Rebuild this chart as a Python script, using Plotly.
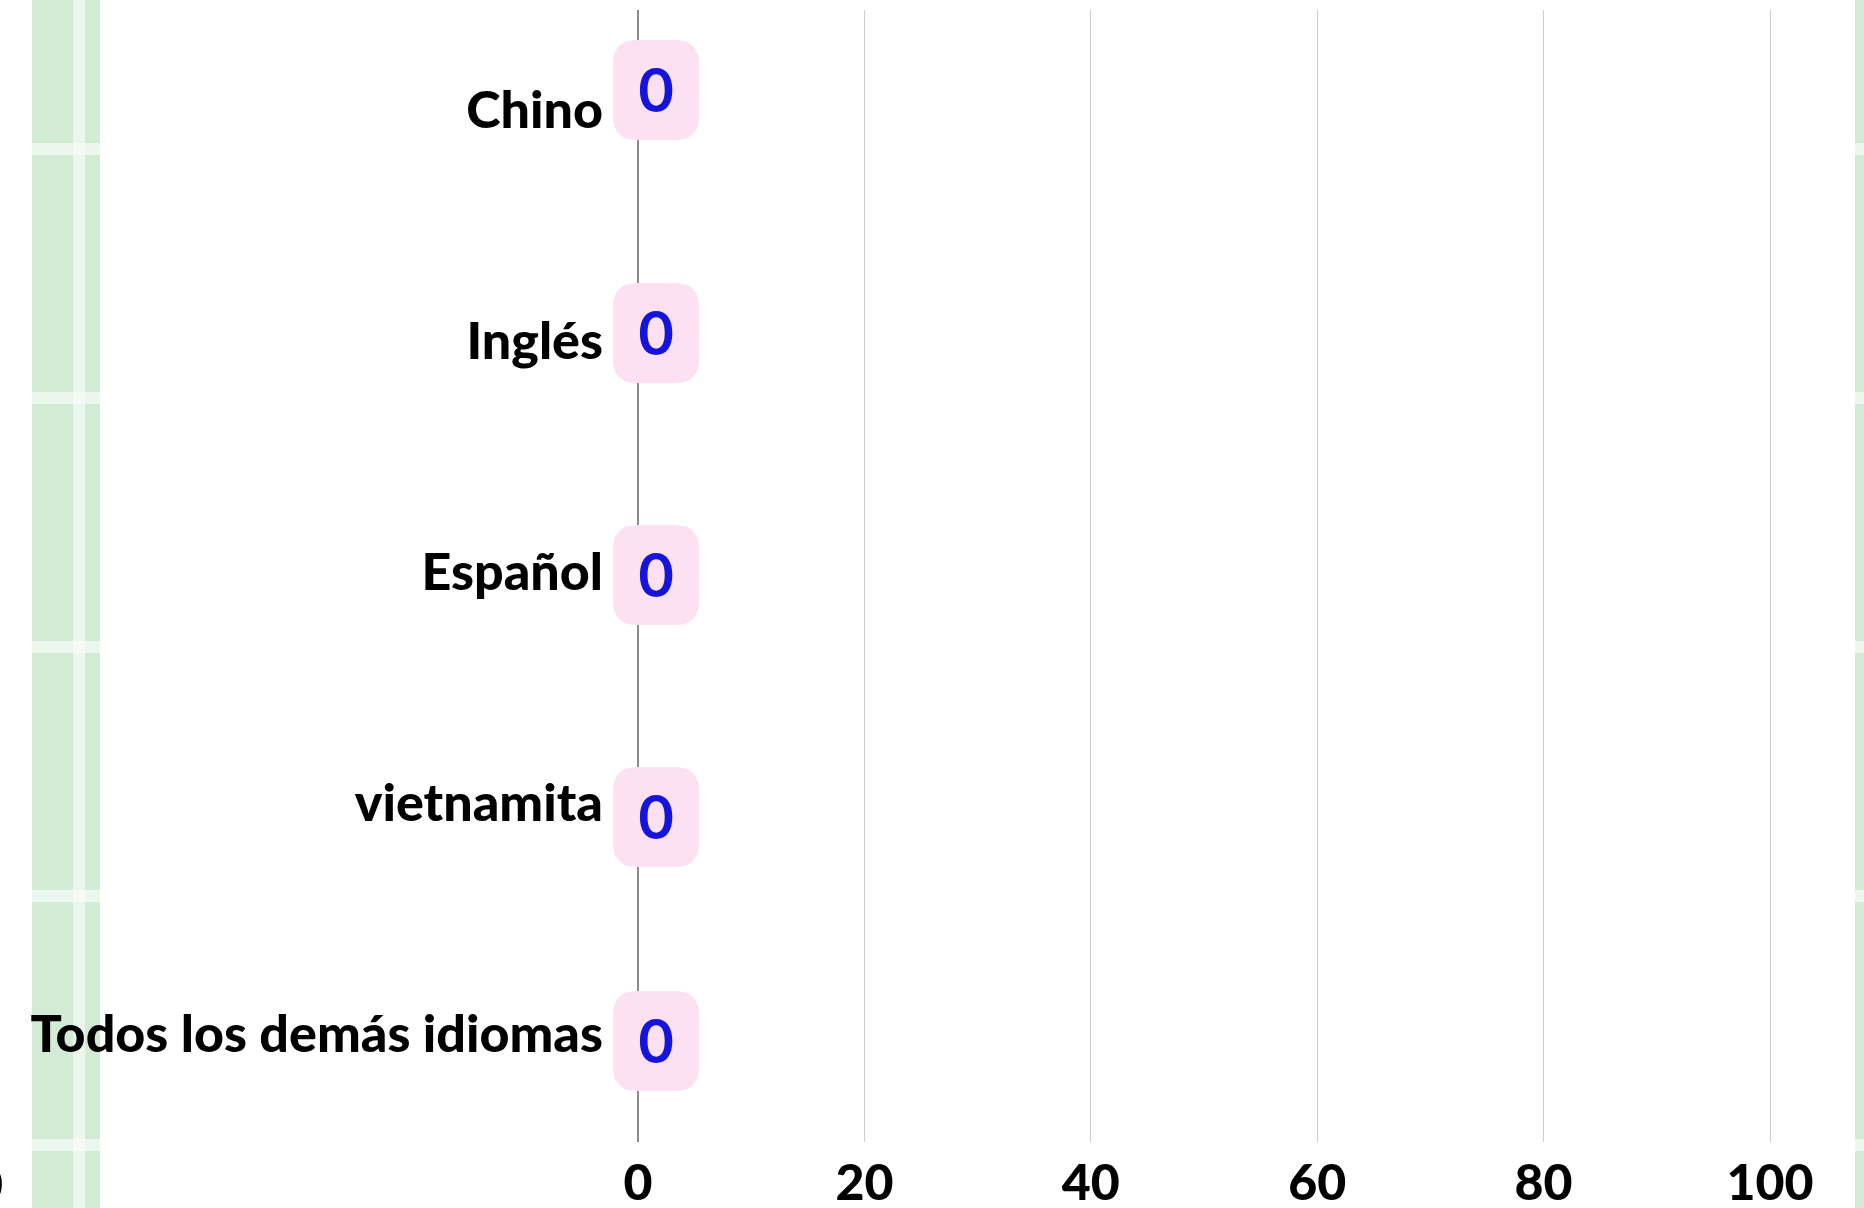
import plotly.graph_objects as go

# Languages and their counts
languages = ["Chino", "Inglés", "Español", "vietnamita", "Todos los demás idiomas"]
counts = [0, 0, 0, 0, 0]
x_ticks = [0, 20, 40, 60, 80, 100]

W, H = 1864, 1208
ZERO_PX = 638            # pixel column of x = 0
PX_PER_UNIT = 1132 / 100
PLOT_L, PLOT_R, PLOT_T, PLOT_B = 608, 1800, 10, 1142
X_MIN = (PLOT_L - ZERO_PX) / PX_PER_UNIT
X_MAX = (PLOT_R - ZERO_PX) / PX_PER_UNIT

# vertical placement of the rows
ROW_PX = 231
FIRST_ROW_PX = 110
y_top = (PLOT_T - FIRST_ROW_PX) / ROW_PX
y_bot = (PLOT_B - FIRST_ROW_PX) / ROW_PX

row_idx = list(range(len(languages)))
badge_lift = [20, 8, -3, -14, -7]

LABEL_FONT = "Lato"
BADGE_FONT = "Inter"


def px_x(p):
    return (p - PLOT_L) / (PLOT_R - PLOT_L)


def px_y(p):
    return (PLOT_B - p) / (PLOT_B - PLOT_T)


fig = go.Figure()
fig.add_trace(go.Bar(
    x=counts, y=row_idx, orientation="h",
    marker_color="#1414dc", hoverinfo="skip", showlegend=False,
))

shapes = []
GREEN = "#d2ebd4"
STRIPE = "#ebf6ec"
CROSS = "#f4faf4"
stripe_rows = [(143, 155), (392, 404), (641, 653), (890, 902), (1139, 1151)]
for (xa, xb) in [(32, 100), (1855, 1864)]:
    shapes.append(dict(type="rect", xref="paper", yref="paper",
                       x0=px_x(xa), x1=px_x(xb), y0=px_y(H), y1=px_y(0),
                       fillcolor=GREEN, line_width=0, layer="below"))
    for (ya, yb) in stripe_rows:
        shapes.append(dict(type="rect", xref="paper", yref="paper",
                           x0=px_x(xa), x1=px_x(xb), y0=px_y(yb), y1=px_y(ya),
                           fillcolor=STRIPE, line_width=0, layer="below"))
shapes.append(dict(type="rect", xref="paper", yref="paper",
                   x0=px_x(73), x1=px_x(85), y0=px_y(H), y1=px_y(0),
                   fillcolor=STRIPE, line_width=0, layer="below"))
for (ya, yb) in stripe_rows:
    shapes.append(dict(type="rect", xref="paper", yref="paper",
                       x0=px_x(73), x1=px_x(85), y0=px_y(yb), y1=px_y(ya),
                       fillcolor=CROSS, line_width=0, layer="below"))


def rounded_rect(cx, cy, w, h, r):
    x0, x1 = cx - w / 2, cx + w / 2
    y0, y1 = cy - h / 2, cy + h / 2
    return (f"M{x0 + r},{y0} L{x1 - r},{y0} Q{x1},{y0} {x1},{y0 + r} "
            f"L{x1},{y1 - r} Q{x1},{y1} {x1 - r},{y1} L{x0 + r},{y1} "
            f"Q{x0},{y1} {x0},{y1 - r} L{x0},{y0 + r} Q{x0},{y0} {x0 + r},{y0} Z")


annotations = []
for i, v in zip(row_idx, counts):
    lift = badge_lift[i]
    shapes.append(dict(type="path", xref="x", yref="y",
                       xsizemode="pixel", ysizemode="pixel",
                       xanchor=v, yanchor=i,
                       path=rounded_rect(18, lift, 86, 100, 24),
                       fillcolor="#fde1f3", line_width=0, layer="above"))
    annotations.append(dict(x=v, y=i, xref="x", yref="y", text=str(v),
                            showarrow=False, xshift=18, yshift=lift,
                            font=dict(family=BADGE_FONT, size=58, color="#1414dc",
                                      weight=600)))

# partially visible tick label at the far left edge
annotations.append(dict(x=px_x(5), y=px_y(1183), xref="paper", yref="paper",
                        text="0", showarrow=False, xanchor="right", yanchor="middle",
                        font=dict(family=LABEL_FONT, size=50, color="#000", weight=900)))

fig.update_layout(
    template="none",
    width=W, height=H,
    margin=dict(l=PLOT_L, r=W - PLOT_R, t=PLOT_T, b=H - PLOT_B, pad=0, autoexpand=False),
    paper_bgcolor="white", plot_bgcolor="white",
    shapes=shapes, annotations=annotations,
    xaxis=dict(range=[X_MIN, X_MAX], tickvals=x_ticks, showgrid=True,
               gridcolor="#cccccc", gridwidth=1, zeroline=True,
               zerolinecolor="#8c8c8c", zerolinewidth=2, showline=False,
               ticks="", ticklabelstandoff=7, automargin=False,
               tickfont=dict(family=LABEL_FONT, size=50, color="#000", weight=900)),
    yaxis=dict(range=[y_bot, y_top], tickvals=row_idx, ticktext=languages,
               showgrid=False, zeroline=False, showline=False, ticks="",
               ticklabelstandoff=4, automargin=False,
               tickfont=dict(family=LABEL_FONT, size=52, color="#000", weight=900)),
    bargap=0.3,
)

fig.write_html("out.html")
